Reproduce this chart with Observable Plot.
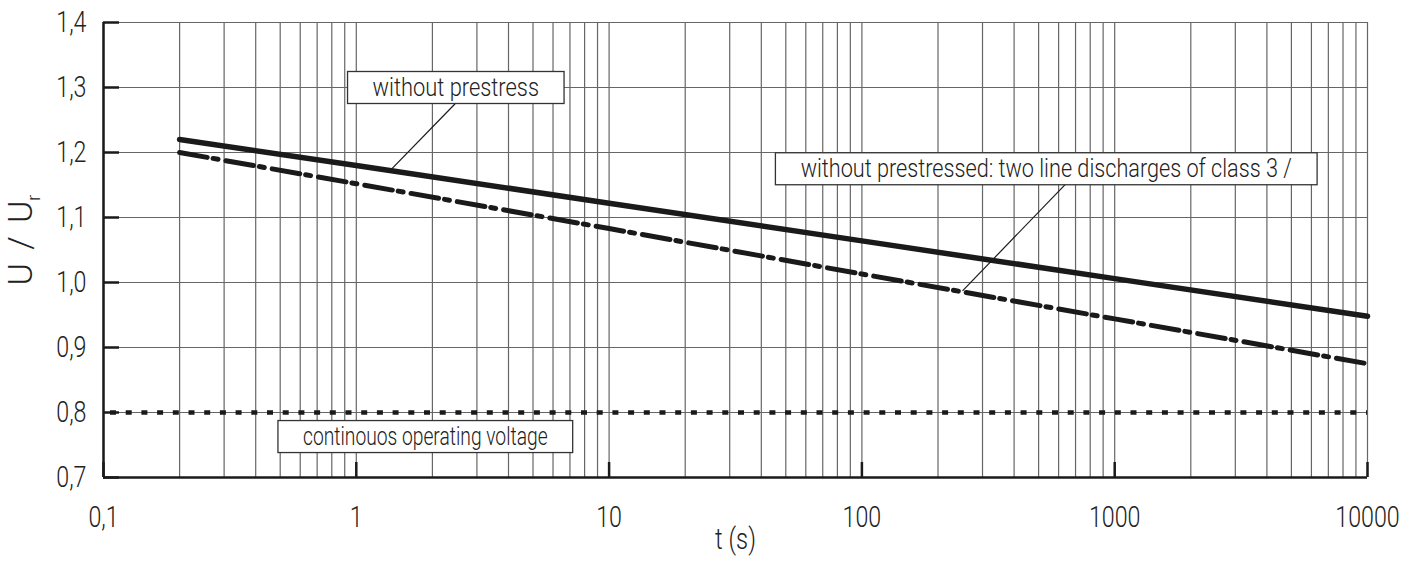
<!DOCTYPE html>
<html><head><meta charset="utf-8">
<script src="https://cdn.jsdelivr.net/npm/d3@7"></script>
<script src="https://cdn.jsdelivr.net/npm/@observablehq/plot@0.6"></script>
<style>
body{margin:0;background:#fff}
#chart svg{font-family:Roboto,"DejaVu Sans Condensed",sans-serif;font-weight:300;display:block}
#chart g.ytitle text{word-spacing:5px}
</style></head><body><div id="chart"></div>
<script>
// ---- data ----
const timeS = [0.2, 1, 10, 100, 1000, 10000];
const withoutPrestress = [1.22, 1.18, 1.122, 1.064, 1.006, 0.948];
const twoLineDischarges = [1.2, 1.152, 1.083, 1.013, 0.944, 0.875];
const continuousVoltage = [0.8];

const xMajorTicks = [0.1, 1, 10, 100, 1000, 10000];
const xMajorLabels = ["0,1", "1", "10", "100", "1000", "10000"];
const xGridTicks = [0.1,0.2,0.3,0.4,0.5,0.6,0.7,0.8,0.9,
  1,2,3,4,5,6,7,8,9, 10,20,30,40,50,60,70,80,90,
  100,200,300,400,500,600,700,800,900, 1000,2000,3000,4000,5000,6000,7000,8000,9000, 10000];
const yTicks = [0.7, 0.8, 0.9, 1.0, 1.1, 1.2, 1.3, 1.4];
const yTickLabels = ["0,7", "0,8", "0,9", "1,0", "1,1", "1,2", "1,3", "1,4"];

const labelTexts = ["without prestress", "without prestressed: two line discharges of class 3 /", "continouos operating voltage"];
const labelT = [2.475, 536, 1.875];
const labelU = [1.3, 1.175, 0.763];

const leaderT1 = [2.46, 638];
const leaderU1 = [1.275, 1.151];
const leaderT2 = [1.36, 250];
const leaderU2 = [1.172, 0.987];

const xTitle = "t (s)";
const yTitle = "U / U";
const yTitleSub = "r";

// ---- tables built from the arrays ----
const solid = timeS.map((t, i) => ({t, u: withoutPrestress[i]}));
const dashDot = timeS.map((t, i) => ({t, u: twoLineDischarges[i]}));
const labels = labelTexts.map((text, i) => ({text, t: labelT[i], u: labelU[i]}));
const leaders = leaderT1.map((t, i) => ({t1: t, u1: leaderU1[i], t2: leaderT2[i], u2: leaderU2[i]}));
const xFmt = d => xMajorLabels[xMajorTicks.indexOf(d)] ?? "";
const yFmt = d => yTickLabels[yTicks.findIndex(v => Math.abs(v - d) < 1e-9)] ?? "";

const ink = "#1a1a1a";
const textInk = "#222";
const gridColor = "#666";

const chart = Plot.plot({
  width: 1426,
  height: 561,
  marginLeft: 103,
  marginRight: 59,
  marginTop: 22,
  marginBottom: 84,
  x: {type: "log", domain: [0.1, 10000]},
  y: {domain: [0.7, 1.4]},
  marks: [
    Plot.gridX(xGridTicks, {stroke: gridColor, strokeOpacity: 1, strokeWidth: 1.2}),
    Plot.gridY(yTicks, {stroke: gridColor, strokeOpacity: 1, strokeWidth: 1.2}),
    Plot.ruleY(continuousVoltage, {stroke: ink, strokeWidth: 4.5, strokeDasharray: "6,9.7", strokeDashoffset: -7}),
    Plot.line(solid, {x: "t", y: "u", stroke: ink, strokeWidth: 5.5}),
    Plot.line(dashDot, {x: "t", y: "u", stroke: ink, strokeWidth: 5, strokeDasharray: "28,6,5,8"}),
    Plot.link(leaders, {x1: "t1", y1: "u1", x2: "t2", y2: "u2", stroke: ink, strokeWidth: 1.2}),
    Plot.text(labels, {x: "t", y: "u", text: "text", fontSize: 25, fill: textInk, className: "ann"}),
    Plot.ruleX([0.1], {stroke: ink, strokeWidth: 2.5}),
    Plot.ruleY([0.7], {stroke: ink, strokeWidth: 2.5}),
    Plot.axisY(yTicks, {tickSize: -16, strokeWidth: 2.5, stroke: ink, tickFormat: () => "", label: null}),
    Plot.axisY(yTicks, {tickSize: 0, tickPadding: 17, tickFormat: yFmt, fontSize: 29, fill: textInk, label: null, className: "ticklab"}),
    Plot.axisX(xMajorTicks, {tickSize: -15, strokeWidth: 2.5, stroke: ink, tickFormat: () => "", label: null}),
    Plot.axisX(xMajorTicks, {tickSize: 0, tickPadding: 29, tickFormat: xFmt, fontSize: 29, fill: textInk, label: null, className: "ticklab"}),
    Plot.text([xTitle], {frameAnchor: "bottom", dy: 71, fontSize: 29, fill: textInk, className: "xtitle"}),
    Plot.text([yTitle], {frameAnchor: "left", textAnchor: "middle", dx: -82, dy: -10, rotate: -90, fontSize: 34, fill: textInk, className: "ytitle"})
  ]
});
document.getElementById("chart").appendChild(chart);

// condensed look: squeeze glyphs horizontally around each text's anchor
function squeeze(sel, s) {
  chart.querySelectorAll(sel).forEach((t, i) => {
    const k = Array.isArray(s) ? s[i] : s;
    const tr = t.getAttribute("transform") || "";
    t.setAttribute("transform", `${tr} scale(${k},1)`);
  });
}

// white boxes with a thin border around the annotation labels
const pad = 25, boxH = 32, annScale = [0.875, 0.867, 0.77];
chart.querySelectorAll("g.ann text").forEach((t, i) => {
  const bb = t.getBBox();
  const k = annScale[i];
  const r = document.createElementNS("http://www.w3.org/2000/svg", "rect");
  const tr = t.getAttribute("transform");
  if (tr) r.setAttribute("transform", tr);
  r.setAttribute("x", bb.x * k - pad);
  r.setAttribute("y", -boxH / 2);
  r.setAttribute("width", bb.width * k + 2 * pad);
  r.setAttribute("height", boxH);
  r.setAttribute("fill", "#fff");
  r.setAttribute("stroke", "#333");
  r.setAttribute("stroke-width", 1.3);
  t.parentNode.insertBefore(r, t);
});
squeeze("g.ann text", annScale);
squeeze("g.ticklab text", 0.8);
squeeze("g.xtitle text", 0.82);

// subscript r on the y title
chart.querySelectorAll("g.ytitle text").forEach(t => {
  const s = document.createElementNS("http://www.w3.org/2000/svg", "tspan");
  s.setAttribute("font-size", "18");
  s.setAttribute("dy", "8");
  s.textContent = yTitleSub;
  t.appendChild(s);
});
</script></body></html>
